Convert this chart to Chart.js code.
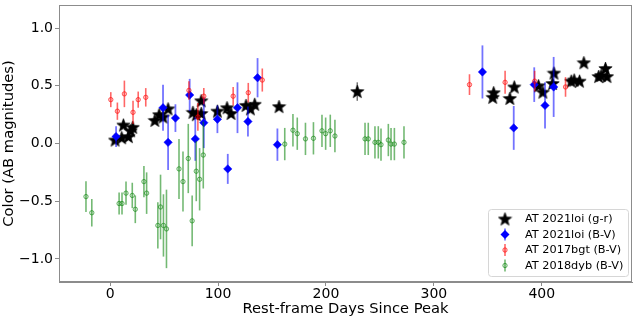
<!DOCTYPE html>
<html>
<head>
<meta charset="utf-8">
<script src="https://cdn.jsdelivr.net/npm/chart.js@4.4.0/dist/chart.umd.min.js"></script>
<style>
html, body { margin: 0; padding: 0; background: #fff; }
#wrap { width: 637px; height: 318px; }
</style>
</head>
<body>
<div id="wrap"><canvas id="chart"></canvas></div>
<script>
const xTicks = [0, 100, 200, 300, 400];
const yTicks = [-1.0, -0.5, 0.0, 0.5, 1.0];

// AT 2021loi (g-r)
const loiGrX = [4.6, 10.7, 12.3, 16.9, 19, 20.9, 41.4, 45.4, 49, 53.7, 76.7, 79.8, 84.4, 84.4, 99.4, 108.3, 112, 125.9, 130, 134, 156.5, 229,
  354.5, 355.4, 370.4, 374.5, 397, 401, 410, 411.3, 427.3, 430, 435, 439, 452.7, 455, 459, 460.4];
const loiGrY = [0.03, 0.05, 0.16, 0.06, 0.11, 0.14, 0.20, 0.25, 0.23, 0.30, 0.27, 0.25, 0.26, 0.37, 0.28, 0.31, 0.26, 0.33, 0.30, 0.34, 0.32, 0.45,
  0.40, 0.44, 0.39, 0.49, 0.50, 0.445, 0.52, 0.61, 0.54, 0.55, 0.54, 0.70, 0.58, 0.59, 0.65, 0.58];
const loiGrErr = [0.02, 0.02, 0.02, 0.02, 0.02, 0.02, 0.02, 0.02, 0.02, 0.02, 0.02, 0.02, 0.02, 0.02, 0.02, 0.02, 0.02, 0.02, 0.02, 0.02, 0.02, 0.08,
  0.02, 0.02, 0.02, 0.02, 0.02, 0.02, 0.02, 0.02, 0.02, 0.02, 0.02, 0.02, 0.02, 0.02, 0.02, 0.02];

// AT 2021loi (B-V)
const loiBvX = [5.5, 49, 53.7, 60.5, 73.7, 78.9, 86.8, 99.4, 109, 118, 127.7, 136.6, 155, 345, 374, 393, 403, 411];
const loiBvY = [0.06, 0.31, 0.01, 0.22, 0.42, 0.04, 0.18, 0.21, -0.22, 0.31, 0.19, 0.57, -0.01, 0.62, 0.135, 0.51, 0.33, 0.49];
const loiBvErr = [0.09, 0.2, 0.24, 0.12, 0.14, 0.19, 0.22, 0.12, 0.13, 0.22, 0.13, 0.17, 0.14, 0.23, 0.19, 0.15, 0.2, 0.26];

// AT 2017bgt (B-V)
const bgtX = [0.6, 6.7, 13.2, 21.2, 26, 33, 73, 81.3, 86.8, 114, 128, 141, 333, 366, 393.4, 422];
const bgtY = [0.38, 0.28, 0.43, 0.27, 0.38, 0.40, 0.46, 0.23, 0.41, 0.41, 0.44, 0.55, 0.51, 0.53, 0.54, 0.49];
const bgtErr = [0.065, 0.075, 0.115, 0.1, 0.07, 0.08, 0.08, 0.12, 0.07, 0.08, 0.085, 0.1, 0.09, 0.1, 0.09, 0.085];

// AT 2018dyb (B-V)
const dybX = [-22.4, -17, 8.3, 11, 14.7, 20.5, 23.3, 31.3, 33.8, 44.2, 46.7, 49.4, 52.2, 63.8, 67.5, 72.4, 76, 79.8, 82.9, 86.3,
  161.8, 169.4, 173.4, 181, 188.4, 196.3, 199.7, 204, 208.3, 236.2, 239.2, 245.4, 248.5, 251, 257.8, 260.3, 263.4, 272.3];
const dybY = [-0.46, -0.60, -0.52, -0.52, -0.43, -0.45, -0.57, -0.33, -0.43, -0.71, -0.55, -0.71, -0.74, -0.22, -0.33, -0.13, -0.67, -0.24, -0.31, -0.10,
  -0.005, 0.115, 0.085, 0.04, 0.045, 0.11, 0.085, 0.11, 0.065, 0.04, 0.04, 0.01, 0.01, -0.01, 0.03, -0.005, -0.005, 0.01];
const dybErr = [0.134, 0.12, 0.095, 0.095, 0.1, 0.11, 0.12, 0.135, 0.18, 0.2, 0.28, 0.27, 0.34, 0.26, 0.26, 0.3, 0.22, 0.26, 0.27, 0.29,
  0.14, 0.14, 0.14, 0.14, 0.14, 0.14, 0.14, 0.14, 0.14, 0.14, 0.14, 0.14, 0.14, 0.14, 0.14, 0.14, 0.14, 0.14];

const FONT = "'DejaVu Sans', sans-serif";
const AXIS = '#8c8c8c';

function starImage(size) {
    const c = document.createElement('canvas');
    c.width = c.height = size;
    const g = c.getContext('2d');
    const cx = size / 2, cy = size / 2 + 0.5;
    const R = size / 2 - 0.5, r = R * 0.42;
    g.beginPath();
    for (let k = 0; k < 10; k++) {
        const a = -Math.PI / 2 + k * Math.PI / 5;
        const rr = k % 2 ? r : R;
        g.lineTo(cx + rr * Math.cos(a), cy + rr * Math.sin(a));
    }
    g.closePath();
    g.fillStyle = '#000';
    g.fill();
    g.strokeStyle = '#000';
    g.lineWidth = 0.6;
    g.stroke();
    return c;
}
const star = starImage(15);

const pts = (xs, ys) => xs.map((x, i) => ({x: x, y: ys[i]}));

const errorBars = {
    id: 'errorBars',
    beforeDatasetDraw(chart, args) {
        const ds = chart.data.datasets[args.index];
        if (!ds.errors) return;
        const sx = chart.scales.x, sy = chart.scales.y;
        const ctx = chart.ctx;
        ctx.save();
        ctx.strokeStyle = ds.errorColor;
        ctx.lineWidth = ds.errorWidth;
        ds.data.forEach((p, i) => {
            const px = sx.getPixelForValue(p.x);
            ctx.beginPath();
            ctx.moveTo(px, sy.getPixelForValue(p.y - ds.errors[i]));
            ctx.lineTo(px, sy.getPixelForValue(p.y + ds.errors[i]));
            ctx.stroke();
        });
        ctx.restore();
    }
};

const frame = {
    id: 'frame',
    afterDraw(chart) {
        const a = chart.chartArea, ctx = chart.ctx;
        ctx.save();
        ctx.strokeStyle = AXIS;
        ctx.lineWidth = 1;
        ctx.strokeRect(a.left + 0.5, a.top + 0.5, a.right - a.left - 1, a.bottom - a.top - 1);

        // legend
        const w = 140, h = 67;
        const lx = a.right - 4 - w, ly = a.bottom - 6 - h;
        ctx.beginPath();
        ctx.roundRect(lx + 0.5, ly + 0.5, w, h, 3);
        ctx.fillStyle = 'rgba(255,255,255,0.8)';
        ctx.fill();
        ctx.strokeStyle = '#d6d6d6';
        ctx.stroke();
        ctx.font = '11.3px ' + FONT;
        ctx.textBaseline = 'middle';
        chart.data.datasets.forEach((ds, i) => {
            const cy = ly + 10 + i * 15.5;
            const mx = lx + 17;
            if (ds.legendBar) {
                ctx.strokeStyle = ds.errorColor;
                ctx.lineWidth = ds.errorWidth;
                ctx.beginPath();
                ctx.moveTo(mx, cy - 6);
                ctx.lineTo(mx, cy + 6);
                ctx.stroke();
            }
            if (ds.pointStyle === star) {
                ctx.drawImage(star, mx - 7.5, cy - 7.5);
            } else if (ds.pointStyle === 'rectRot') {
                ctx.beginPath();
                ctx.moveTo(mx, cy - 4.5);
                ctx.lineTo(mx + 4.5, cy);
                ctx.lineTo(mx, cy + 4.5);
                ctx.lineTo(mx - 4.5, cy);
                ctx.closePath();
                ctx.fillStyle = ds.backgroundColor;
                ctx.fill();
            } else {
                ctx.beginPath();
                ctx.arc(mx, cy, ds.pointRadius, 0, Math.PI * 2);
                ctx.fillStyle = ds.backgroundColor;
                ctx.fill();
                ctx.strokeStyle = ds.borderColor;
                ctx.lineWidth = 1;
                ctx.stroke();
            }
            ctx.fillStyle = '#000';
            ctx.fillText(ds.label, lx + 37, cy + 0.5);
        });
        ctx.restore();
    }
};

new Chart(document.getElementById('chart'), {
    type: 'scatter',
    data: {
        datasets: [
            {
                label: 'AT 2021loi (g-r)',
                data: pts(loiGrX, loiGrY),
                errors: loiGrErr,
                errorColor: 'rgba(0,0,0,0.55)',
                errorWidth: 1.5,
                pointStyle: star,
                backgroundColor: '#000',
                borderColor: '#000',
                order: 4
            },
            {
                label: 'AT 2021loi (B-V)',
                data: pts(loiBvX, loiBvY),
                errors: loiBvErr,
                errorColor: 'rgba(0,0,255,0.55)',
                errorWidth: 1.8,
                legendBar: true,
                pointStyle: 'rectRot',
                pointRadius: 4.2,
                backgroundColor: '#0000ff',
                borderColor: '#0000ff',
                borderWidth: 0.5,
                order: 3
            },
            {
                label: 'AT 2017bgt (B-V)',
                data: pts(bgtX, bgtY),
                errors: bgtErr,
                errorColor: 'rgba(255,0,0,0.6)',
                errorWidth: 1.6,
                legendBar: true,
                pointStyle: 'circle',
                pointRadius: 2.2,
                backgroundColor: 'rgba(255,0,0,0.2)',
                borderColor: 'rgba(255,0,0,0.6)',
                borderWidth: 1,
                order: 2
            },
            {
                label: 'AT 2018dyb (B-V)',
                data: pts(dybX, dybY),
                errors: dybErr,
                errorColor: 'rgba(0,128,0,0.55)',
                errorWidth: 1.6,
                legendBar: true,
                pointStyle: 'circle',
                pointRadius: 2.2,
                backgroundColor: 'rgba(0,128,0,0.15)',
                borderColor: 'rgba(0,128,0,0.55)',
                borderWidth: 1,
                order: 1
            }
        ]
    },
    options: {
        responsive: true,
        maintainAspectRatio: false,
        animation: false,
        layout: { padding: { left: 0, top: 1, right: 3, bottom: 0 } },
        plugins: {
            legend: { display: false },
            tooltip: { enabled: false }
        },
        scales: {
            x: {
                type: 'linear',
                min: -47.4,
                max: 483.6,
                afterBuildTicks: s => { s.ticks = xTicks.map(v => ({value: v})); },
                afterFit: s => { s.height = 36; s.paddingLeft = 0; s.paddingRight = 0; },
                ticks: {
                    font: { family: FONT, size: 14 },
                    color: '#000',
                    padding: 0,
                    maxRotation: 0,
                    callback: v => String(v)
                },
                grid: { drawOnChartArea: false, tickLength: 4, color: AXIS },
                border: { color: AXIS },
                title: {
                    display: true,
                    text: 'Rest-frame Days Since Peak',
                    font: { family: FONT, size: 14.7 },
                    color: '#000',
                    padding: { top: 0, bottom: 0 }
                }
            },
            y: {
                type: 'linear',
                min: -1.2,
                max: 1.2,
                afterBuildTicks: s => { s.ticks = yTicks.map(v => ({value: v})); },
                afterFit: s => { s.width = 59; s.paddingTop = 0; s.paddingBottom = 0; },
                ticks: {
                    font: { family: FONT, size: 14 },
                    color: '#000',
                    padding: 2,
                    callback: v => (v < 0 ? '\u2212' : '') + Math.abs(v).toFixed(1)
                },
                grid: { drawOnChartArea: false, tickLength: 4, color: AXIS },
                border: { color: AXIS },
                title: {
                    display: true,
                    text: 'Color (AB magnitudes)',
                    font: { family: FONT, size: 14.7 },
                    color: '#000',
                    padding: { top: 0, bottom: 0 }
                }
            }
        }
    },
    plugins: [errorBars, frame]
});
</script>
</body>
</html>
